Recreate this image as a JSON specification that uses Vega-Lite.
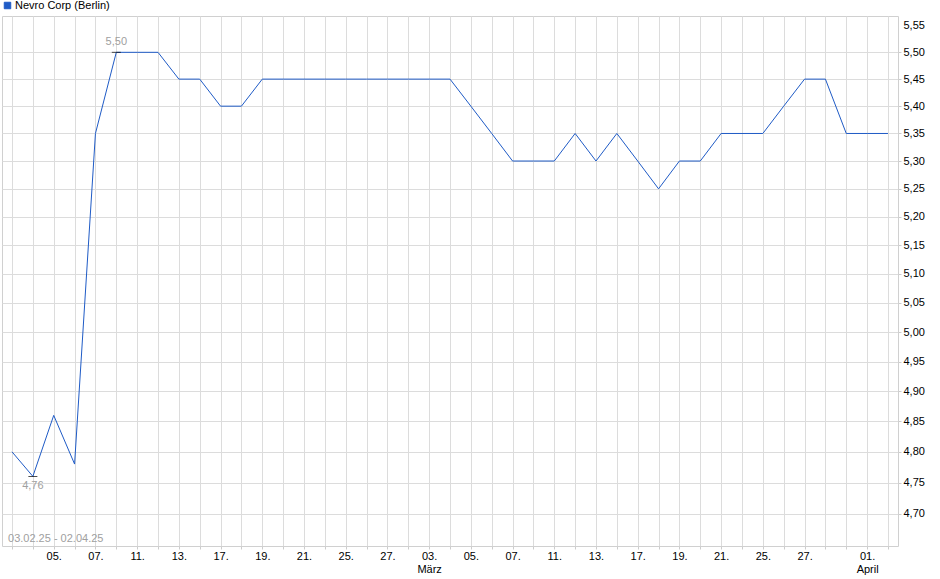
{
  "$schema": "https://vega.github.io/schema/vega-lite/v6.json",
  "width": 896,
  "height": 530,
  "autosize": {"type": "none"},
  "padding": {"left": 2, "top": 16, "right": 42, "bottom": 33},
  "background": "#ffffff",
  "config": {
    "view": {"stroke": "#d0d0d0", "strokeWidth": 1},
    "font": "Liberation Sans",
    "axis": {"labelFont": "Liberation Sans", "labelFontSize": 11, "labelColor": "#000000", "gridColor": "#dcdcdc", "tickColor": "#cccccc", "domain": false}
  },
  "datasets": {
    "prices": [
      {"date": "2025-02-03", "price": 4.80, "series": "Nevro Corp (Berlin)"},
      {"date": "2025-02-04", "price": 4.76, "series": "Nevro Corp (Berlin)"},
      {"date": "2025-02-05", "price": 4.86, "series": "Nevro Corp (Berlin)"},
      {"date": "2025-02-06", "price": 4.78, "series": "Nevro Corp (Berlin)"},
      {"date": "2025-02-07", "price": 5.35, "series": "Nevro Corp (Berlin)"},
      {"date": "2025-02-10", "price": 5.50, "series": "Nevro Corp (Berlin)"},
      {"date": "2025-02-11", "price": 5.50, "series": "Nevro Corp (Berlin)"},
      {"date": "2025-02-12", "price": 5.50, "series": "Nevro Corp (Berlin)"},
      {"date": "2025-02-13", "price": 5.45, "series": "Nevro Corp (Berlin)"},
      {"date": "2025-02-14", "price": 5.45, "series": "Nevro Corp (Berlin)"},
      {"date": "2025-02-17", "price": 5.40, "series": "Nevro Corp (Berlin)"},
      {"date": "2025-02-18", "price": 5.40, "series": "Nevro Corp (Berlin)"},
      {"date": "2025-02-19", "price": 5.45, "series": "Nevro Corp (Berlin)"},
      {"date": "2025-02-20", "price": 5.45, "series": "Nevro Corp (Berlin)"},
      {"date": "2025-02-21", "price": 5.45, "series": "Nevro Corp (Berlin)"},
      {"date": "2025-02-24", "price": 5.45, "series": "Nevro Corp (Berlin)"},
      {"date": "2025-02-25", "price": 5.45, "series": "Nevro Corp (Berlin)"},
      {"date": "2025-02-26", "price": 5.45, "series": "Nevro Corp (Berlin)"},
      {"date": "2025-02-27", "price": 5.45, "series": "Nevro Corp (Berlin)"},
      {"date": "2025-02-28", "price": 5.45, "series": "Nevro Corp (Berlin)"},
      {"date": "2025-03-03", "price": 5.45, "series": "Nevro Corp (Berlin)"},
      {"date": "2025-03-04", "price": 5.45, "series": "Nevro Corp (Berlin)"},
      {"date": "2025-03-05", "price": 5.40, "series": "Nevro Corp (Berlin)"},
      {"date": "2025-03-06", "price": 5.35, "series": "Nevro Corp (Berlin)"},
      {"date": "2025-03-07", "price": 5.30, "series": "Nevro Corp (Berlin)"},
      {"date": "2025-03-10", "price": 5.30, "series": "Nevro Corp (Berlin)"},
      {"date": "2025-03-11", "price": 5.30, "series": "Nevro Corp (Berlin)"},
      {"date": "2025-03-12", "price": 5.35, "series": "Nevro Corp (Berlin)"},
      {"date": "2025-03-13", "price": 5.30, "series": "Nevro Corp (Berlin)"},
      {"date": "2025-03-14", "price": 5.35, "series": "Nevro Corp (Berlin)"},
      {"date": "2025-03-17", "price": 5.30, "series": "Nevro Corp (Berlin)"},
      {"date": "2025-03-18", "price": 5.25, "series": "Nevro Corp (Berlin)"},
      {"date": "2025-03-19", "price": 5.30, "series": "Nevro Corp (Berlin)"},
      {"date": "2025-03-20", "price": 5.30, "series": "Nevro Corp (Berlin)"},
      {"date": "2025-03-21", "price": 5.35, "series": "Nevro Corp (Berlin)"},
      {"date": "2025-03-24", "price": 5.35, "series": "Nevro Corp (Berlin)"},
      {"date": "2025-03-25", "price": 5.35, "series": "Nevro Corp (Berlin)"},
      {"date": "2025-03-26", "price": 5.40, "series": "Nevro Corp (Berlin)"},
      {"date": "2025-03-27", "price": 5.45, "series": "Nevro Corp (Berlin)"},
      {"date": "2025-03-28", "price": 5.45, "series": "Nevro Corp (Berlin)"},
      {"date": "2025-03-31", "price": 5.35, "series": "Nevro Corp (Berlin)"},
      {"date": "2025-04-01", "price": 5.35, "series": "Nevro Corp (Berlin)"},
      {"date": "2025-04-02", "price": 5.35, "series": "Nevro Corp (Berlin)"}
    ],
    "extremes": [
      {"date": "2025-02-10", "price": 5.50, "text": "5,50", "kind": "max"},
      {"date": "2025-02-04", "price": 4.76, "text": "4,76", "kind": "min"}
    ],
    "range": [
      {"date": "2025-02-03", "price": 4.659, "text": "03.02.25 - 02.04.25"}
    ]
  },
  "encoding": {
    "x": {
      "field": "date",
      "type": "ordinal",
      "scale": {"type": "point", "padding": 0.48},
      "axis": {
        "title": null,
        "grid": true,
        "tickSize": 3,
        "labelPadding": 1,
        "labelAngle": 0,
        "labelOverlap": false,
        "labelExpr": "indexof(['2025-02-05','2025-02-07','2025-02-11','2025-02-13','2025-02-17','2025-02-19','2025-02-21','2025-02-25','2025-02-27','2025-03-03','2025-03-05','2025-03-07','2025-03-11','2025-03-13','2025-03-17','2025-03-19','2025-03-21','2025-03-25','2025-03-27','2025-04-01'], datum.value) < 0 ? '' : (datum.value == '2025-03-03' ? ['03.', 'März'] : (datum.value == '2025-04-01' ? ['01.', 'April'] : substring(datum.value, 8, 10) + '.'))"
      }
    },
    "y": {
      "field": "price",
      "type": "quantitative",
      "scale": {"type": "log", "domain": [4.6484, 5.5685], "nice": false, "zero": false},
      "axis": {
        "orient": "right",
        "title": null,
        "grid": true,
        "values": [4.70, 4.75, 4.80, 4.85, 4.90, 4.95, 5.00, 5.05, 5.10, 5.15, 5.20, 5.25, 5.30, 5.35, 5.40, 5.45, 5.50, 5.55],
        "labelExpr": "replace(format(datum.value, '.2f'), '.', ',')",
        "tickSize": 3,
        "labelPadding": 2,
        "gridColor": {"condition": {"test": "datum.value > 5.52", "value": "transparent"}, "value": "#dcdcdc"},
        "tickColor": {"condition": {"test": "datum.value > 5.52", "value": "transparent"}, "value": "#cccccc"}
      }
    }
  },
  "layer": [
    {
      "data": {"name": "prices"},
      "mark": {"type": "line", "strokeWidth": 1, "interpolate": "linear"},
      "encoding": {
        "color": {
          "field": "series",
          "type": "nominal",
          "scale": {"range": ["#1f5bc6"]},
          "legend": {
            "title": null,
            "orient": "none",
            "legendX": 0,
            "legendY": -16,
            "padding": 0,
            "symbolType": "square",
            "symbolSize": 42,
            "symbolFillColor": "#1f5bc6",
            "symbolStrokeColor": "#0a2a6e",
            "symbolStrokeWidth": 1,
            "labelFont": "Liberation Sans",
            "labelFontSize": 11,
            "labelColor": "#000000",
            "labelOffset": 2
          }
        }
      }
    },
    {
      "data": {"name": "extremes"},
      "mark": {"type": "tick", "orient": "horizontal", "size": 9, "thickness": 1, "color": "#000000"}
    },
    {
      "data": {"name": "extremes"},
      "transform": [{"filter": "datum.kind == 'max'"}],
      "mark": {"type": "text", "font": "Liberation Sans", "fontSize": 11, "color": "#a0a0a0", "baseline": "middle", "align": "center", "dy": -10},
      "encoding": {"text": {"field": "text"}}
    },
    {
      "data": {"name": "extremes"},
      "transform": [{"filter": "datum.kind == 'min'"}],
      "mark": {"type": "text", "font": "Liberation Sans", "fontSize": 11, "color": "#a0a0a0", "baseline": "middle", "align": "center", "dy": 10},
      "encoding": {"text": {"field": "text"}}
    },
    {
      "data": {"name": "range"},
      "mark": {"type": "text", "font": "Liberation Sans", "fontSize": 11, "color": "#a0a0a0", "align": "left", "baseline": "middle", "dx": -4},
      "encoding": {"text": {"field": "text"}}
    }
  ]
}
